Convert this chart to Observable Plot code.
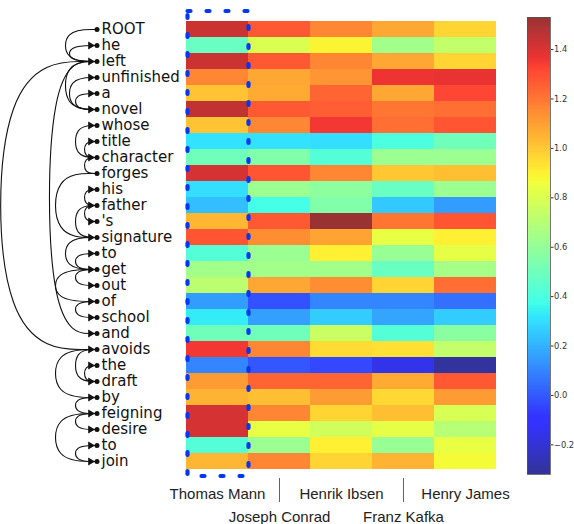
<!DOCTYPE html>
<html><head><meta charset="utf-8">
<script src="https://cdn.jsdelivr.net/npm/d3@7"></script>
<script src="https://cdn.jsdelivr.net/npm/@observablehq/plot@0.6"></script>
<style>
html,body{margin:0;padding:0;background:#fff;}
#wrap{position:relative;width:574px;height:524px;overflow:hidden;}
#wrap svg{position:absolute;left:0;top:0;}
</style></head><body><div id="wrap"></div>
<script>
// ---- data ----
const words = ["ROOT","he","left","unfinished","a","novel","whose","title","character","forges","his","father","'s","signature","to","get","out","of","school","and","avoids","the","draft","by","feigning","desire","to","join"];
const authors = ["Thomas Mann","Joseph Conrad","Henrik Ibsen","Franz Kafka","Henry James"];
const thomasMann   = [1.43,0.48,1.43,1.16,1.01,1.45,1.01,0.31,0.50,1.41,0.30,0.23,1.04,1.28,0.42,0.64,0.71,0.15,0.33,0.50,1.35,0.10,1.11,1.05,1.41,1.41,0.42,1.04];
const josephConrad = [1.27,0.80,1.27,1.08,1.07,1.27,1.16,0.31,0.55,1.28,0.62,0.38,1.27,1.14,0.62,0.64,1.08,-0.02,0.16,0.50,1.16,-0.01,1.24,1.02,1.16,0.84,0.62,1.16];
const henrikIbsen  = [1.16,0.89,1.16,1.12,1.24,1.26,1.35,0.30,0.42,1.16,0.58,0.55,1.53,1.09,0.90,0.64,1.14,0.10,0.26,0.75,0.95,-0.04,1.24,1.11,0.97,0.77,0.90,0.97];
const franzKafka   = [1.08,0.64,1.08,1.36,1.08,1.20,1.22,0.40,0.62,1.00,0.48,0.25,1.20,0.84,0.61,0.48,0.97,0.10,0.17,0.42,0.94,-0.16,1.07,0.96,1.02,0.83,0.61,1.05];
const henryJames   = [0.97,0.73,0.97,1.37,1.32,1.22,1.28,0.50,0.62,1.02,0.62,0.15,1.28,0.90,0.83,0.65,1.22,0.05,0.26,0.57,0.73,-0.31,1.27,1.11,0.79,0.70,0.84,0.87];
const series = [thomasMann, josephConrad, henrikIbsen, franzKafka, henryJames];
// dependency arcs: head index, dependent index, nesting level
const arcHead  = [0,2,2,5,5,8,8,9,9,11,11,13,2,2,13,15,15,15,17,20,22,20,23,24,24,27];
const arcDep   = [2,1,5,3,4,6,7,8,13,10,12,11,19,20,15,14,16,17,18,22,21,23,24,25,27,26];
const arcLevel = [4,3,4,3,2,2,1,1,5,1,1,2,6,7,4,2,2,5,2,2,1,5,2,2,5,2];
const colorTicks = [-0.2,0,0.2,0.4,0.6,0.8,1.0,1.2,1.4];
const vmin = -0.32, vmax = 1.53;
const upperAuthors = [authors[0], authors[2], authors[4]];
const lowerAuthors = [authors[1], authors[3]];

// ---- jet colormap (alpha 0.8 over white) ----
function lerpPts(pts, t){
  for (let i=1;i<pts.length;i++){ if (t<=pts[i][0]){ const [t0,v0]=pts[i-1],[t1,v1]=pts[i]; return v0+(v1-v0)*(t-t0)/(t1-t0);} }
  return pts[pts.length-1][1];
}
function jet(t){
  return [lerpPts([[0,0],[0.35,0],[0.66,1],[0.89,1],[1,0.5]],t),
          lerpPts([[0,0],[0.125,0],[0.375,1],[0.64,1],[0.91,0],[1,0]],t),
          lerpPts([[0,0.5],[0.11,1],[0.34,1],[0.65,0],[1,0]],t)];
}
const knots = [0,0.11,0.125,0.34,0.35,0.375,0.64,0.65,0.66,0.89,0.91,1];
const alpha = 0.8;
const colorOpts = {
  type:"linear",
  domain: knots.map(k => vmin + k*(vmax-vmin)),
  range: knots.map(k => { const c = jet(k).map(v => Math.round(255*(alpha*v + 1 - alpha))); return d3.rgb(c[0],c[1],c[2]).formatHex(); })
};

const wrap = document.getElementById("wrap");
const W = 574, H = 524;
const transparent = {background:"transparent", overflow:"visible"};

// ---- heatmap ----
const cells = words.flatMap((w,i) => authors.map((a,j) => ({row:i, author:a, value: series[j][i]})));
const heat = Plot.plot({
  width:W, height:H, marginLeft:186, marginRight:78, marginTop:11, marginBottom:46,
  style: transparent,
  x:{type:"band", domain:authors, padding:0, axis:null},
  y:{type:"band", domain:d3.range(words.length), padding:0, axis:null},
  color: colorOpts,
  marks:[
    Plot.cell(cells, {x:"author", y:"row", fill:"value", shapeRendering:"crispEdges"}),
    Plot.cell([authors[0]], {x:d=>d, fill:"none", stroke:"#0536f3", strokeWidth:4.2, strokeDasharray:"3,16", strokeLinecap:"round", insetLeft:1.5, insetRight:-0.5, insetBottom:2}),
    Plot.axisX(upperAuthors, {label:null, tickSize:0, tickPadding:10, fontSize:15, fontFamily:"Liberation Sans", fill:"#222"}),
    Plot.axisX(lowerAuthors, {label:null, tickSize:24, tickPadding:9, stroke:"#3a5cf0", strokeWidth:1, fontSize:15, fontFamily:"Liberation Sans", fill:"#222"})
  ]
});
wrap.appendChild(heat);

// ---- dependency arcs + words ----
const arcList = arcHead.map((h,k) => ({k, head:h, dep:arcDep[k], level:arcLevel[k]}));
const arcPts = arcList.flatMap(a => [{k:a.k,lv:0,r:a.head},{k:a.k,lv:a.level,r:a.head},{k:a.k,lv:a.level,r:a.dep},{k:a.k,lv:0,r:a.dep}]);
const deps = Plot.plot({
  width:W, height:H, marginLeft:0, marginRight:0, marginTop:11, marginBottom:46,
  style: transparent,
  x:{type:"linear", domain:[0,1,2,3,4,5,6,7], range:[96.5,83.5,74.1,67.8,63.6,53.2,46.9,-4], axis:null},
  y:{type:"point", domain:d3.range(words.length), padding:0.5, axis:null},
  marks:[
    Plot.line(arcPts, {x:"lv", y:"r", z:"k", curve:"basis", stroke:"#111", strokeWidth:1.1}),
    Plot.dot(arcList, {x:()=>0, y:"dep", symbol:"triangle2", rotate:90, r:3.8, fill:"#111", stroke:"none", dx:-6.5}),
    Plot.dot(words, {x:()=>0, y:(d,i)=>i, r:2.5, fill:"#111", stroke:"none"}),
    Plot.text(words, {x:()=>0, y:(d,i)=>i, text:d=>d, textAnchor:"start", dx:4.5, fontSize:15, fontFamily:"DejaVu Sans", fill:"#111"})
  ]
});
wrap.appendChild(deps);

// ---- colorbar ----
const cbN = 240;
const strips = d3.range(cbN).map(i => ({y1: vmin + i*(vmax-vmin)/cbN, y2: vmin + (i+1)*(vmax-vmin)/cbN}));
const cbar = Plot.plot({
  width:W, height:H, marginLeft:527, marginRight:24, marginTop:17, marginBottom:50,
  style: transparent,
  x:{domain:[0,1], axis:null},
  y:{domain:[vmin,vmax], axis:null},
  color: colorOpts,
  marks:[
    Plot.rect(strips, {x1:()=>0, x2:()=>1, y1:"y1", y2:"y2", fill:d=>(d.y1+d.y2)/2, shapeRendering:"crispEdges"}),
    Plot.frame({stroke:"#555", strokeWidth:0.8}),
    Plot.axisY(colorTicks, {anchor:"right", label:null, tickSize:2.5, tickPadding:1, tickFormat:d3.format(".1f"), fontSize:8.3, fontFamily:"DejaVu Sans", fill:"#333", stroke:"#333"})
  ]
});
wrap.appendChild(cbar);
</script></body></html>
